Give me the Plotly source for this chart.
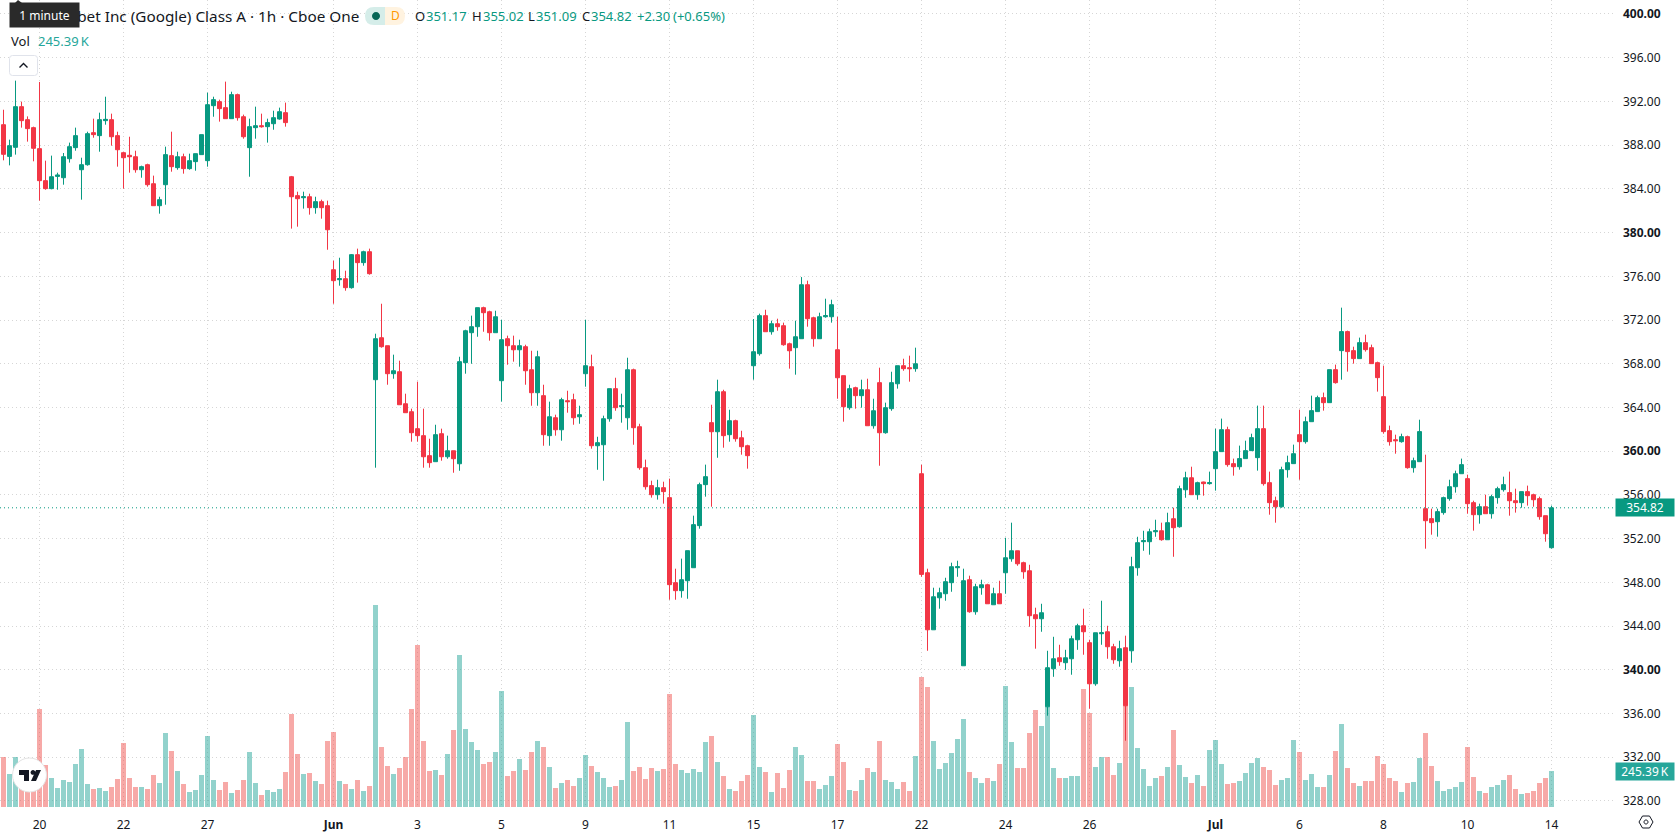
import plotly.graph_objects as go

# Hourly GOOGL candles (Cboe One), one row per ten bars
open_ = [
    389.87, 386.97, 387.80, 391.52, 390.33, 389.60, 387.68, 384.75, 384.02, 385.14,
    385.02, 386.76, 387.77, 385.75, 386.21, 389.14, 388.87, 390.24, 390.33, 388.87,
    387.31, 387.07, 386.94, 385.75, 386.21, 384.47, 382.46, 384.38, 387.04, 385.94,
    386.94, 385.85, 386.49, 387.13, 386.58, 391.61, 391.98, 391.43, 390.42, 392.62,
    390.60, 387.77, 389.60, 389.78, 389.69, 389.96, 390.39, 390.97, 385.11, 383.38,
    383.19, 383.28, 382.28, 382.83, 382.46, 376.60, 375.69, 375.78, 374.96, 377.98,
    377.25, 378.25, 366.54, 370.38, 369.65, 367.09, 367.27, 364.34, 363.61, 362.06,
    361.42, 359.59, 359.04, 361.60, 359.49, 360.04, 358.85, 368.10, 370.84, 371.39,
    373.13, 372.76, 370.84, 366.45, 370.29, 369.65, 369.28, 369.56, 367.45, 365.35,
    365.08, 361.42, 363.06, 361.96, 364.62, 364.71, 363.15, 367.09, 367.73, 360.50,
    360.59, 362.97, 365.72, 364.07, 363.06, 367.45, 362.24, 358.49, 356.85, 356.02,
    356.66, 355.75, 347.97, 347.24, 348.15, 349.34, 353.19, 356.94, 362.61, 361.78,
    365.44, 361.51, 362.79, 361.23, 360.50, 367.82, 368.92, 372.40, 370.93, 371.66,
    371.48, 369.83, 369.47, 370.29, 375.23, 372.21, 370.29, 372.30, 372.30, 369.28,
    366.91, 363.98, 365.81, 365.08, 365.62, 362.33, 366.27, 361.69, 363.89, 366.17,
    367.82, 367.64, 367.55, 357.94, 348.88, 343.66, 346.59, 346.96, 347.97, 349.34,
    340.37, 348.24, 345.31, 347.51, 347.78, 345.95, 346.96, 348.88, 350.16, 350.89,
    349.80, 349.06, 345.04, 344.67, 336.62, 340.10, 341.10, 340.65, 341.01, 342.75,
    344.03, 342.48, 338.72, 343.30, 343.48, 342.11, 340.83, 342.02, 341.74, 349.34,
    351.72, 351.72, 352.63, 352.72, 351.90, 353.82, 353.09, 356.47, 357.57, 356.02,
    357.18, 357.03, 358.40, 359.96, 361.97, 358.86, 358.58, 359.32, 360.05, 359.41,
    362.06, 357.12, 355.47, 354.92, 358.31, 358.86, 361.51, 360.87, 362.70, 363.62,
    364.90, 364.44, 367.46, 369.20, 370.94, 369.20, 368.47, 369.93, 369.47, 368.10,
    364.99, 361.88, 361.05, 360.87, 361.33, 358.49, 359.04, 354.74, 353.83, 353.55,
    354.38, 355.66, 356.75, 357.94, 357.49, 355.29, 354.19, 354.92, 354.28, 355.75,
    356.48, 356.21, 355.47, 355.29, 356.30, 356.02, 355.66, 354.10, 351.17,
]
high = [
    391.24, 388.50, 393.90, 391.98, 390.63, 389.69, 393.78, 386.58, 387.04, 385.48,
    387.28, 388.23, 389.60, 386.85, 389.23, 390.42, 390.97, 392.43, 390.88, 389.23,
    387.40, 388.77, 387.49, 386.12, 386.30, 385.21, 383.28, 387.86, 389.23, 387.40,
    387.22, 387.22, 387.22, 388.96, 392.80, 392.43, 392.16, 393.81, 392.89, 392.71,
    390.79, 390.42, 391.52, 390.88, 390.42, 391.15, 391.43, 391.89, 385.18, 383.74,
    383.74, 383.56, 383.28, 383.01, 382.92, 377.43, 377.70, 376.51, 378.04, 378.53,
    378.34, 378.53, 370.75, 373.49, 369.65, 368.83, 368.28, 365.26, 363.89, 366.36,
    363.89, 361.14, 362.42, 362.06, 361.42, 360.04, 368.64, 371.11, 372.40, 373.13,
    373.22, 372.85, 372.85, 372.03, 370.57, 370.57, 370.20, 369.74, 369.19, 369.19,
    366.08, 364.53, 363.34, 364.89, 365.53, 365.26, 364.16, 372.03, 368.83, 361.32,
    363.25, 365.72, 366.72, 365.26, 368.55, 367.55, 362.51, 359.23, 357.30, 357.39,
    357.21, 357.49, 349.25, 350.17, 350.90, 354.10, 357.12, 358.77, 364.25, 366.54,
    365.62, 363.79, 362.88, 361.87, 360.59, 372.09, 372.58, 372.94, 371.94, 372.12,
    371.76, 369.93, 371.94, 375.93, 375.60, 372.30, 372.67, 373.95, 373.86, 372.30,
    366.91, 366.08, 365.90, 366.54, 366.63, 364.80, 367.64, 364.44, 367.27, 367.82,
    368.46, 368.74, 369.47, 358.76, 349.25, 347.51, 347.51, 348.42, 349.80, 349.98,
    349.25, 348.61, 347.87, 348.24, 347.87, 347.51, 348.15, 352.08, 353.46, 350.89,
    349.89, 349.61, 345.68, 346.04, 341.74, 343.02, 342.29, 341.83, 343.12, 344.21,
    345.59, 342.75, 343.39, 346.32, 344.03, 342.38, 342.66, 343.12, 350.34, 352.17,
    352.72, 352.91, 353.73, 353.46, 354.37, 354.83, 356.84, 358.12, 358.58, 357.21,
    357.21, 358.13, 362.06, 362.98, 362.24, 359.32, 360.51, 360.96, 361.60, 364.17,
    364.17, 358.13, 355.84, 358.58, 359.59, 360.60, 363.80, 363.16, 365.08, 365.08,
    365.36, 367.46, 367.92, 373.13, 371.03, 369.56, 370.39, 370.66, 369.75, 368.19,
    367.83, 362.34, 361.51, 361.60, 361.42, 359.41, 362.88, 359.68, 354.74, 354.74,
    355.84, 357.39, 358.22, 359.32, 357.85, 355.47, 355.20, 356.02, 356.02, 356.75,
    357.67, 358.13, 356.57, 356.30, 356.85, 356.11, 355.84, 354.10, 355.02,
]
low = [
    386.61, 386.15, 387.13, 389.60, 388.32, 386.52, 382.92, 383.92, 383.96, 383.92,
    384.38, 386.40, 387.49, 383.01, 386.12, 388.68, 387.40, 389.87, 387.95, 386.03,
    384.02, 385.48, 385.48, 385.02, 384.20, 382.46, 381.73, 382.55, 385.57, 385.75,
    385.39, 385.75, 385.66, 387.13, 386.03, 390.60, 390.15, 390.42, 390.42, 390.24,
    388.59, 385.11, 388.59, 389.60, 388.23, 389.41, 390.33, 389.69, 380.36, 380.54,
    382.19, 381.64, 381.73, 381.27, 378.43, 373.49, 375.14, 374.68, 374.87, 375.42,
    376.97, 376.15, 358.49, 369.47, 366.08, 366.63, 364.25, 363.52, 360.87, 360.87,
    358.49, 358.49, 359.04, 359.13, 359.31, 358.03, 358.21, 367.09, 368.00, 370.47,
    370.93, 370.11, 370.84, 364.53, 367.91, 368.19, 367.73, 366.08, 364.16, 364.16,
    360.50, 360.50, 361.42, 360.96, 363.52, 362.42, 362.51, 365.90, 360.23, 358.30,
    357.30, 362.70, 363.70, 362.61, 361.96, 360.59, 358.30, 356.48, 355.75, 355.57,
    355.20, 346.41, 346.41, 346.60, 346.50, 349.34, 352.91, 355.84, 354.92, 359.40,
    360.32, 360.87, 360.87, 359.68, 358.40, 366.54, 368.74, 370.93, 370.66, 371.02,
    369.65, 367.55, 367.00, 370.29, 371.39, 369.56, 370.29, 372.21, 371.76, 364.80,
    362.70, 363.79, 363.89, 363.98, 362.33, 362.06, 358.67, 361.60, 363.70, 365.72,
    367.36, 366.36, 367.27, 348.51, 341.74, 343.66, 345.59, 346.32, 347.14, 348.51,
    340.37, 345.22, 345.04, 346.87, 346.04, 345.95, 346.04, 346.96, 349.89, 349.52,
    348.33, 343.94, 341.93, 343.48, 335.80, 339.36, 340.37, 340.00, 339.55, 341.83,
    341.38, 336.44, 338.54, 342.29, 341.01, 340.55, 340.28, 333.51, 340.65, 348.61,
    350.89, 350.53, 352.17, 351.81, 351.90, 350.34, 353.00, 355.74, 356.02, 355.56,
    355.93, 356.94, 356.39, 359.96, 358.58, 357.76, 358.31, 359.32, 360.05, 358.22,
    356.85, 354.19, 353.46, 354.83, 357.58, 358.86, 357.39, 360.69, 362.70, 363.62,
    363.71, 364.44, 366.18, 366.54, 367.28, 368.01, 368.47, 369.11, 368.01, 365.45,
    361.60, 360.51, 359.77, 360.78, 358.40, 358.04, 359.04, 351.08, 352.36, 352.18,
    354.19, 355.47, 356.21, 357.94, 354.28, 352.73, 353.37, 354.28, 353.83, 355.20,
    356.30, 354.10, 354.38, 354.83, 355.02, 354.92, 353.73, 351.72, 351.09,
]
close = [
    387.16, 387.95, 391.52, 390.24, 389.51, 387.71, 384.75, 384.02, 385.11, 385.27,
    386.94, 387.86, 388.87, 386.21, 389.05, 388.96, 390.33, 390.36, 388.77, 387.58,
    386.85, 386.94, 385.75, 386.03, 384.38, 382.46, 383.01, 387.13, 386.03, 386.94,
    385.85, 386.58, 387.22, 388.96, 391.70, 392.16, 391.34, 390.42, 392.62, 390.51,
    388.77, 389.69, 389.78, 389.69, 390.06, 390.51, 391.06, 390.06, 383.28, 383.10,
    383.28, 382.28, 382.83, 382.28, 380.26, 375.60, 375.78, 374.96, 377.98, 377.25,
    378.25, 376.24, 370.29, 369.56, 367.09, 367.36, 364.25, 363.52, 361.69, 361.42,
    359.49, 358.95, 361.51, 359.49, 360.04, 359.31, 368.19, 371.02, 371.39, 373.13,
    372.67, 370.84, 372.30, 370.20, 369.65, 369.28, 369.65, 367.36, 365.35, 368.64,
    361.51, 363.15, 361.96, 364.71, 364.53, 363.06, 363.34, 367.82, 360.50, 360.78,
    362.97, 365.72, 363.98, 364.16, 367.45, 362.15, 358.49, 356.75, 356.02, 356.66,
    356.30, 347.79, 347.24, 348.24, 350.90, 353.28, 356.94, 357.67, 361.78, 365.44,
    361.42, 362.79, 361.14, 360.41, 359.59, 369.10, 372.40, 370.93, 371.66, 371.39,
    369.74, 369.19, 370.47, 375.23, 372.12, 370.29, 372.30, 372.40, 373.40, 366.72,
    364.07, 365.72, 365.08, 365.62, 362.33, 363.70, 361.69, 363.98, 366.27, 367.82,
    367.55, 367.55, 368.00, 348.73, 343.66, 346.68, 347.05, 348.06, 349.43, 349.43,
    348.15, 345.31, 347.60, 347.78, 346.04, 346.96, 346.04, 350.25, 350.89, 349.70,
    348.97, 344.95, 344.67, 345.22, 340.19, 341.01, 340.74, 341.10, 342.84, 344.03,
    343.48, 338.72, 343.39, 343.39, 342.11, 340.92, 341.93, 336.71, 349.43, 351.63,
    351.81, 352.63, 352.72, 351.90, 353.46, 353.00, 356.57, 357.57, 356.02, 357.12,
    357.03, 357.12, 359.96, 361.97, 358.77, 358.58, 359.32, 360.05, 361.24, 362.06,
    357.03, 355.29, 354.92, 358.31, 358.95, 359.77, 360.87, 362.70, 363.71, 364.90,
    364.44, 367.46, 366.27, 370.94, 369.11, 368.47, 369.93, 369.29, 368.01, 366.73,
    361.79, 360.87, 360.96, 361.33, 358.49, 359.13, 361.79, 353.64, 353.46, 354.47,
    355.75, 356.75, 357.94, 358.77, 355.20, 354.19, 354.92, 354.28, 355.84, 356.57,
    356.94, 355.47, 355.29, 356.30, 355.93, 355.56, 354.01, 352.45, 354.82,
]
# Traded volume per bar, in thousands of shares
volume_k = [
    340.8, 224.9, 340.8, 182.0, 159.0, 170.0, 668.0, 286.3, 197.7, 129.5,
    184.0, 170.4, 293.1, 395.3, 156.8, 122.7, 129.5, 109.1, 136.3, 190.8,
    436.2, 197.7, 136.3, 136.3, 122.7, 218.1, 163.6, 504.4, 381.7, 245.4,
    156.8, 102.2, 115.9, 218.1, 483.9, 184.0, 115.9, 170.4, 95.4, 115.9,
    184.0, 374.9, 163.6, 81.8, 115.9, 102.2, 122.7, 238.6, 633.9, 361.2,
    224.9, 231.7, 177.2, 156.8, 449.9, 511.2, 177.2, 156.8, 122.7, 184.0,
    109.1, 143.1, 1376.8, 409.0, 279.5, 224.9, 265.8, 340.8, 668.0, 1104.2,
    449.9, 245.4, 252.2, 218.1, 361.2, 524.8, 1036.0, 531.6, 443.0, 388.5,
    293.1, 306.7, 374.9, 790.7, 211.3, 245.4, 327.2, 252.2, 374.9, 449.9,
    409.0, 272.6, 129.5, 163.6, 184.0, 143.1, 197.7, 354.4, 279.5, 238.6,
    197.7, 136.3, 143.1, 184.0, 579.4, 245.4, 272.6, 190.8, 265.8, 245.4,
    259.0, 770.2, 293.1, 252.2, 231.7, 259.0, 238.6, 443.0, 483.9, 306.7,
    211.3, 122.7, 109.1, 177.2, 218.1, 627.1, 272.6, 238.6, 102.2, 231.7,
    129.5, 252.2, 409.0, 354.4, 177.2, 177.2, 122.7, 150.0, 211.3, 429.4,
    306.7, 115.9, 109.1, 184.0, 265.8, 238.6, 449.9, 184.0, 170.4, 122.7,
    170.4, 109.1, 347.6, 886.1, 817.9, 449.9, 259.0, 299.9, 368.1, 463.5,
    599.8, 238.6, 197.7, 163.6, 197.7, 177.2, 293.1, 824.7, 443.0, 265.8,
    265.8, 504.4, 661.2, 552.1, 681.6, 265.8, 197.7, 197.7, 211.3, 211.3,
    804.3, 640.7, 272.6, 340.8, 340.8, 218.1, 299.9, 688.4, 817.9, 402.1,
    259.0, 143.1, 197.7, 211.3, 272.6, 524.8, 286.3, 204.5, 163.6, 218.1,
    143.1, 388.5, 456.7, 293.1, 156.8, 163.6, 177.2, 231.7, 299.9, 334.0,
    272.6, 252.2, 150.0, 184.0, 197.7, 456.7, 374.9, 184.0, 224.9, 136.3,
    136.3, 218.1, 381.7, 565.7, 265.8, 163.6, 143.1, 177.2, 177.2, 347.6,
    293.1, 197.7, 177.2, 102.2, 163.6, 170.4, 334.0, 504.4, 279.5, 177.2,
    109.1, 122.7, 136.3, 170.4, 409.0, 204.5, 109.1, 95.4, 136.3, 150.0,
    184.0, 218.1, 122.7, 88.6, 95.4, 109.1, 163.6, 197.7, 245.39,
]
assert len(open_) == len(high) == len(low) == len(close) == len(volume_k) == 259

# Time axis: bar index and label
date_ticks = [6, 20, 34, 55, 69, 83, 97, 111, 125, 139, 153, 167, 181, 202, 216, 230, 244, 258]
date_labels = ["20", "22", "27", "<b>Jun</b>", "3", "5", "9", "11", "15", "17",
               "22", "24", "26", "<b>Jul</b>", "6", "8", "10", "14"]
# Price axis levels; round twenties are emphasised
price_levels = list(range(328, 401, 4))
price_labels = [f"<b>{p}.00</b>" if p % 20 == 0 else f"{p}.00" for p in price_levels]

UP = "#089981"
DOWN = "#F23645"
VOL_UP = "rgba(38,166,154,0.5)"
VOL_DOWN = "rgba(239,83,80,0.5)"
GRID = "#d6d6d6"
TEXT = "#131722"
FONT = "Noto Sans"

W, H = 1678, 835
PLOT_W, PLOT_H = 1614, 807


def fx(px):
    return px / PLOT_W


def fy(px):
    return 1 - px / PLOT_H


bars = list(range(len(close)))
vol_colors = [VOL_UP if c >= o else VOL_DOWN for o, c in zip(open_, close)]

fig = go.Figure()
fig.add_trace(go.Bar(
    x=bars, y=volume_k, width=5 / 6, marker=dict(color=vol_colors, line_width=0),
    yaxis="y", hoverinfo="skip", showlegend=False,
))
fig.add_trace(go.Candlestick(
    x=bars, open=open_, high=high, low=low, close=close, yaxis="y2",
    whiskerwidth=0,
    increasing=dict(line=dict(color=UP, width=1), fillcolor=UP),
    decreasing=dict(line=dict(color=DOWN, width=1), fillcolor=DOWN),
    hoverinfo="skip", showlegend=False,
))


def label(x, y, text, size=13, color=TEXT, **kw):
    return dict(xref="paper", yref="paper", x=fx(x), y=fy(y), text=text, showarrow=False,
                xanchor=kw.pop("xanchor", "left"), yanchor="middle",
                font=dict(family=FONT, size=size, color=color), **kw)


annotations = [
    label(34, 16, "Alphabet Inc (Google) Class A · 1h · Cboe One", size=15.3),
    label(9, 15.5, "1 minute", size=12, color="#ffffff", bgcolor="#2a2a2a",
          width=69, height=24, borderpad=0, align="center"),
    label(9, 41, "Vol", size=13),
    label(36, 41, "245.39\u2009K", size=13, color="#26a69a"),
    label(395, 16, "D", size=12, color="#ff9800", xanchor="center"),
    label(413, 16, "O", size=13),
    label(424, 16, "351.17", size=13, color=UP),
    label(470, 16, "H", size=13),
    label(481, 16, "355.02", size=13, color=UP),
    label(526, 16, "L", size=13),
    label(534, 16, "351.09", size=13, color=UP),
    label(580, 16, "C", size=13),
    label(589, 16, "354.82", size=13, color=UP),
    label(635, 16, "+2.30", size=13, color=UP),
    label(671, 16, "(+0.65%)", size=13, color=UP),
    # Last-value tags sitting on the price scale
    dict(xref="paper", yref="y2", x=1, y=close[-1], xshift=1, text=f"{close[-1]:.2f}",
         showarrow=False, xanchor="left", yanchor="middle", bgcolor=UP,
         width=58, height=17, borderpad=0,
         font=dict(family=FONT, size=12, color="#ffffff")),
    dict(xref="paper", yref="y", x=1, y=volume_k[-1], xshift=1, text=f"{volume_k[-1]:.2f}\u2009K",
         showarrow=False, xanchor="left", yanchor="middle", bgcolor="#26a69a",
         width=58, height=17, borderpad=0,
         font=dict(family=FONT, size=12, color="#ffffff")),
]


def icon(path, **kw):
    # Path given in pixels measured from the top-left corner of the page
    return dict(type="path", path=path, xref="paper", yref="paper", xsizemode="pixel",
                ysizemode="pixel", xanchor=0, yanchor=1, layer="above", **kw)


def py(y):
    return -y


def rounded(x0, y0, x1, y1, r):
    return (f"M{x0 + r},{py(y0)} L{x1 - r},{py(y0)} Q{x1},{py(y0)} {x1},{py(y0 + r)} "
            f"L{x1},{py(y1 - r)} Q{x1},{py(y1)} {x1 - r},{py(y1)} L{x0 + r},{py(y1)} "
            f"Q{x0},{py(y1)} {x0},{py(y1 - r)} L{x0},{py(y0 + r)} Q{x0},{py(y0)} {x0 + r},{py(y0)} Z")


def disc(cx, cy, r):
    return (f"M{cx - r},{py(cy)} C{cx - r},{py(cy - r * .55)} {cx - r * .55},{py(cy - r)} {cx},{py(cy - r)} "
            f"C{cx + r * .55},{py(cy - r)} {cx + r},{py(cy - r * .55)} {cx + r},{py(cy)} "
            f"C{cx + r},{py(cy + r * .55)} {cx + r * .55},{py(cy + r)} {cx},{py(cy + r)} "
            f"C{cx - r * .55},{py(cy + r)} {cx - r},{py(cy + r * .55)} {cx - r},{py(cy)} Z")


no_line = dict(width=0)
shapes = [
    # Dotted last-price line
    dict(type="line", xref="paper", x0=0, x1=1, yref="y2", y0=close[-1], y1=close[-1],
         line=dict(color=UP, width=1, dash="1px,3px"), layer="above"),
    # Tooltip pointer
    icon(f"M15,{py(3)} L18,{py(0)} L22,{py(3)} Z", fillcolor="#2a2a2a", line=no_line),
    # Status pill
    icon(f"M385,{py(7)} L374,{py(7)} Q365,{py(7)} 365,{py(16)} Q365,{py(25)} 374,{py(25)} L385,{py(25)} Z",
         fillcolor="#d5ede9", line=no_line),
    icon(f"M385,{py(7)} L396,{py(7)} Q405,{py(7)} 405,{py(16)} Q405,{py(25)} 396,{py(25)} L385,{py(25)} Z",
         fillcolor="#fff3e0", line=no_line),
    icon(disc(376, 16, 4), fillcolor="#056656", line=no_line),
    # Legend collapse button
    icon(rounded(9.5, 55.5, 37.5, 75.5, 3), fillcolor="#ffffff", line=dict(color="#e0e3eb", width=1)),
    icon(f"M19.5,{py(67.5)} L23.5,{py(63.5)} L27.5,{py(67.5)}", line=dict(color=TEXT, width=1.4)),
    # Watermark badge
    icon(disc(29.5, 775, 17), fillcolor="#ffffff", line=dict(color="#e4e4e4", width=1)),
    icon(f"M19,{py(770)} L29,{py(770)} L29,{py(781)} L24,{py(781)} L24,{py(775)} L19,{py(775)} Z",
         fillcolor="#131722", line=no_line),
    icon(disc(33, 772.4, 2.4), fillcolor="#131722", line=no_line),
    icon(f"M36,{py(770)} L41,{py(770)} L36,{py(781)} L31,{py(781)} Z", fillcolor="#131722", line=no_line),
    # Scale settings icon
    icon(f"M1639,{py(822)} L1642.5,{py(816)} L1649.5,{py(816)} L1653,{py(822)} "
         f"L1649.5,{py(828)} L1642.5,{py(828)} Z", line=dict(color=TEXT, width=1)),
    icon(disc(1646, 822, 2), line=dict(color=TEXT, width=1)),
]

fig.update_layout(
    width=W, height=H, autosize=False,
    margin=dict(l=0, r=W - PLOT_W, t=0, b=H - PLOT_H, pad=0),
    paper_bgcolor="#ffffff", plot_bgcolor="#ffffff",
    barmode="overlay", boxmode="overlay", boxgap=1 / 3, boxgroupgap=0,
    hovermode=False, dragmode=False, showlegend=False,
    font=dict(family=FONT, size=12, color=TEXT),
    xaxis=dict(
        range=[-3.5 / 6, (PLOT_W - 3.5) / 6], tickmode="array", tickvals=date_ticks, ticktext=date_labels,
        showgrid=True, gridcolor=GRID, griddash="1px,3px", gridwidth=1,
        zeroline=False, showline=False, ticks="", rangeslider=dict(visible=False),
        ticklabelstandoff=9, tickfont=dict(family=FONT, size=12, color=TEXT),
    ),
    yaxis=dict(range=[0, PLOT_H * 6.816], visible=False, fixedrange=True),
    yaxis2=dict(
        range=[327.448, 401.278], overlaying="y", side="right", anchor="x",
        tickmode="array", tickvals=price_levels, ticktext=price_labels,
        showgrid=True, gridcolor=GRID, griddash="1px,3px", gridwidth=1,
        zeroline=False, showline=False, ticks="", ticklabelstandoff=8,
        tickfont=dict(family=FONT, size=12, color=TEXT),
    ),
    annotations=annotations, shapes=shapes,
)

fig.write_html("out.html", config=dict(displayModeBar=False, staticPlot=True))
